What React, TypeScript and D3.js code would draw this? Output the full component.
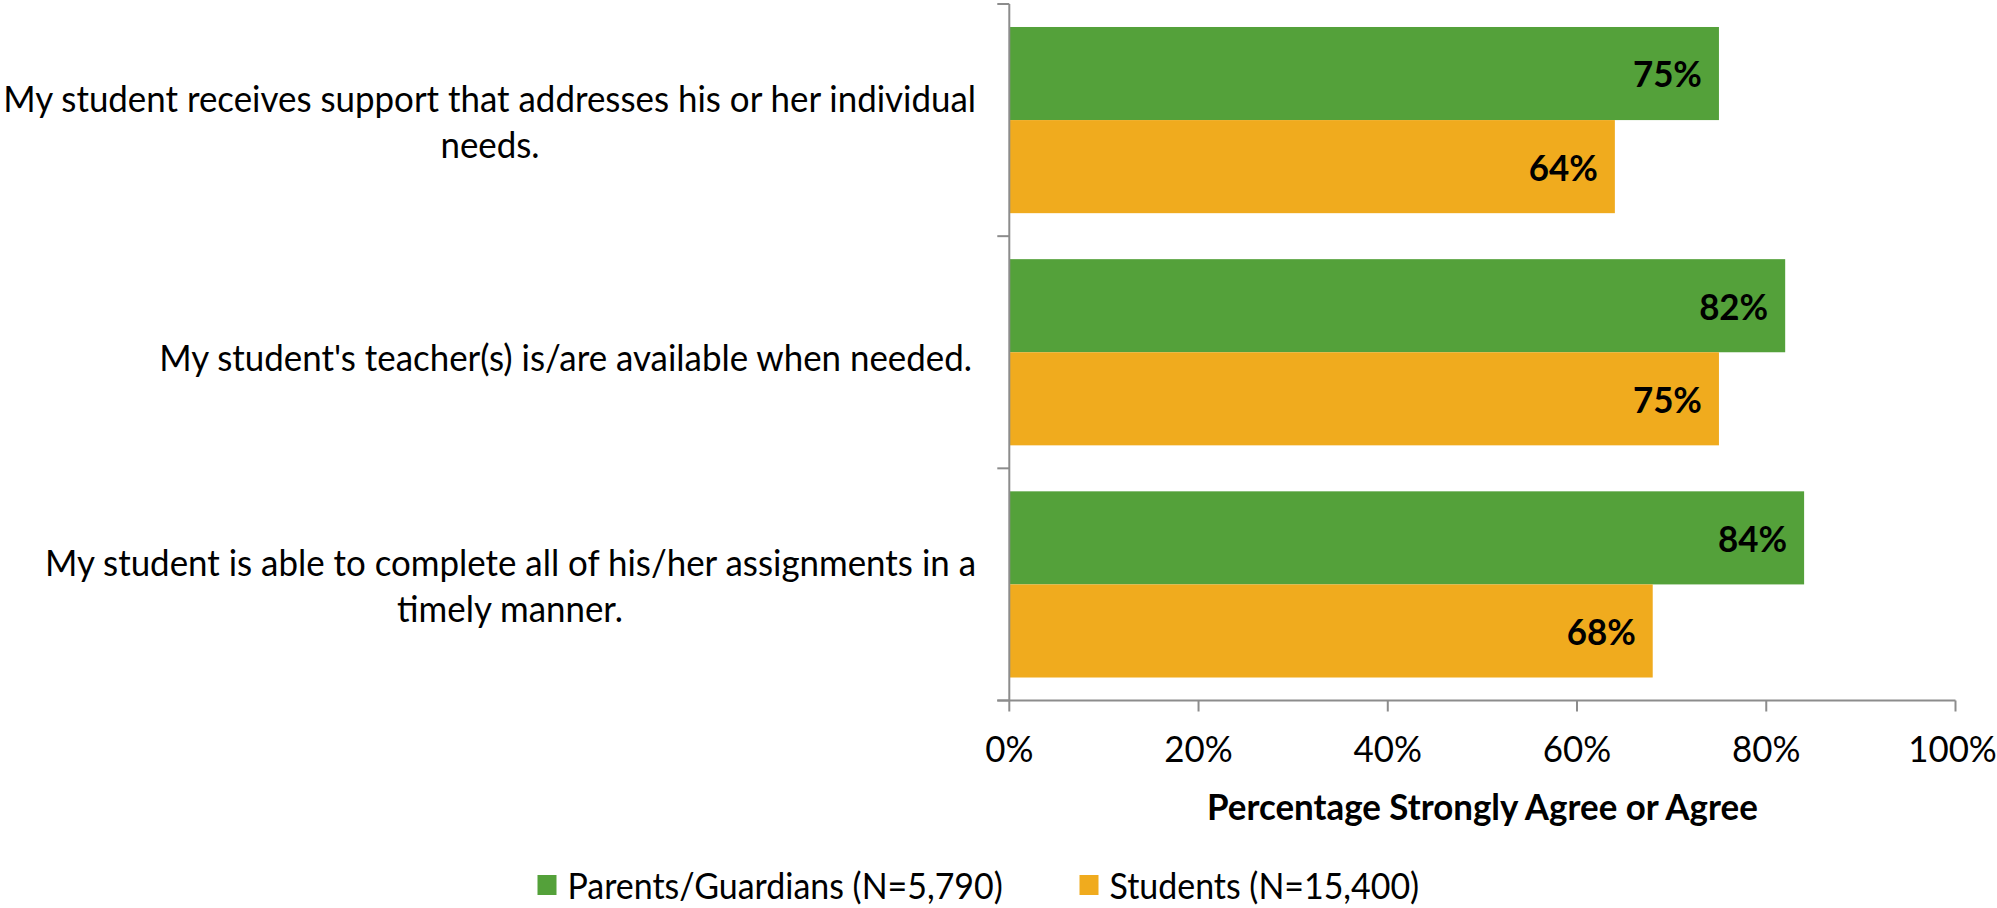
import React from "react";
import * as d3 from "d3";

const categories = [
  ["My student receives support that addresses his or her individual", "needs."],
  ["My student's teacher(s) is/are available when needed."],
  ["My student is able to complete all of his/her assignments in a", "timely manner."],
];
const seriesNames = ["Parents/Guardians (N=5,790)", "Students (N=15,400)"];
const parents = [75, 82, 84];
const students = [64, 75, 68];
const xTicks = [0, 20, 40, 60, 80, 100];
const axisTitle = "Percentage Strongly Agree or Agree";

const COLORS = ["#54A13A", "#F0AB1E"];
const AXIS = "#8C8C8C";
const FONT = "Lato, 'Noto Sans', sans-serif";
const SX = 0.943;

export default function App() {
  const W = 1997, H = 908;
  const left = 1009.3, right = 1955.5, top = 4, bottom = 700.5;
  const x = d3.scaleLinear().domain([0, 100]).range([left, right]);
  const keys = categories.map((_, i) => String(i));
  const y = d3.scaleBand().domain(keys).range([top, bottom]).padding(0);
  const yi = d3.scaleBand().domain(["0", "1"]).range([0, y.bandwidth()]).paddingInner(0).paddingOuter(0.247);
  const series = [parents, students];
  const labelRight = 976;
  const lineH = 46;

  const T = (props: any) => {
    const { x: tx, y: ty, children, anchor = "middle", weight = 400, size = 37 } = props;
    return (
      <text
        transform={`translate(${tx},${ty}) scale(${SX},1)`}
        textAnchor={anchor}
        dominantBaseline="central"
        fontFamily={FONT}
        fontWeight={weight}
        fontSize={size}
        fill="#000"
      >
        {children}
      </text>
    );
  };

  return (
    <svg width={W} height={H} style={{ position: "absolute", left: 0, top: 0, background: "#fff" }}>
      {/* bars */}
      {keys.map((k, ci) => (
        <g key={k} transform={`translate(0,${y(k)})`}>
          {series.map((s, si) => (
            <g key={si}>
              <rect
                x={x(0)}
                y={yi(String(si))}
                width={x(s[ci]) - x(0)}
                height={yi.bandwidth()}
                fill={COLORS[si]}
              />
              <T x={x(s[ci]) - 17} y={(yi(String(si)) as number) + yi.bandwidth() / 2} anchor="end" weight={700}>
                {s[ci] + "%"}
              </T>
            </g>
          ))}
        </g>
      ))}
      {/* y axis */}
      <line x1={left} x2={left} y1={top} y2={bottom} stroke={AXIS} strokeWidth={2} />
      {[...keys.map((k) => y(k) as number), bottom].map((v, i) => (
        <line key={i} x1={left - 12} x2={left} y1={v} y2={v} stroke={AXIS} strokeWidth={2} />
      ))}
      {/* x axis */}
      <line x1={left - 12} x2={right} y1={bottom} y2={bottom} stroke={AXIS} strokeWidth={2} />
      {xTicks.map((t) => (
        <g key={t}>
          <line x1={x(t)} x2={x(t)} y1={bottom} y2={bottom + 11} stroke={AXIS} strokeWidth={2} />
          <T x={t === 100 ? x(t) - 3 : x(t)} y={748}>{t + "%"}</T>
        </g>
      ))}
      <T x={(left + right) / 2} y={806} weight={700}>{axisTitle}</T>
      {/* category labels */}
      {categories.map((lines, ci) => {
        const cy = (y(String(ci)) as number) + y.bandwidth() / 2;
        const n = lines.length;
        return lines.map((ln, li) => {
          const ly = cy + (li - (n - 1) / 2) * lineH + 1;
          if (n === 1) return <T key={li} x={labelRight - 4} y={ly + 4} anchor="end">{ln}</T>;
          return li === 0 ? (
            <T key={li} x={labelRight} y={ly} anchor="end">{ln}</T>
          ) : (
            <T key={li} x={ci === 0 ? 490 : 510} y={ly} anchor="middle">{ln}</T>
          );
        });
      })}
      {/* legend */}
      {seriesNames.map((nm, i) => {
        const lx = i === 0 ? 537.5 : 1079.5;
        return (
          <g key={nm}>
            <rect x={lx} y={875} width={19} height={20} fill={COLORS[i]} />
            <T x={lx + 30} y={885} anchor="start" size={36}>{nm}</T>
          </g>
        );
      })}
    </svg>
  );
}
